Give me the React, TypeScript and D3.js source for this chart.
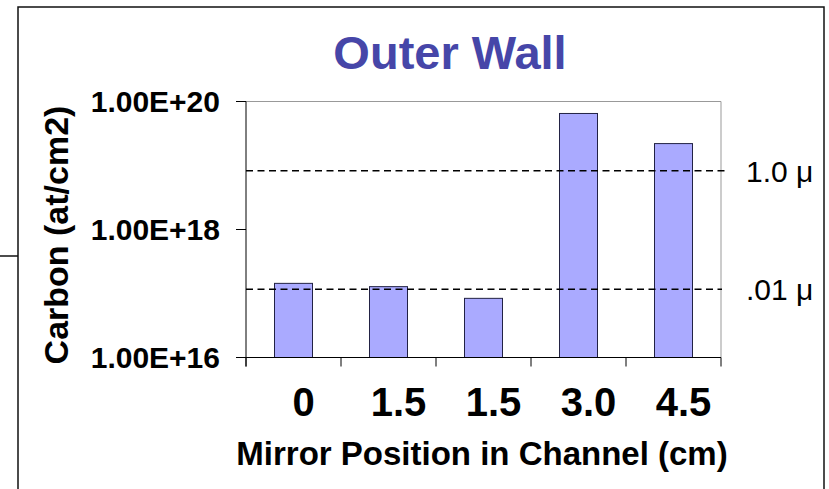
import React, { useEffect, useRef } from 'react';
import * as d3 from 'd3';

const positions = ['0', '1.5', '1.5', '3.0', '4.5'];
const carbon = [1.44e17, 1.28e17, 8.4e16, 6.5e19, 2.2e19];
const yTicks = [1e16, 1e18, 1e20];
const refValues = [8.3e18, 1.17e17];
const refLabels = ['1.0 μ', '.01 μ'];

const App: React.FC = () => {
    const svgRef = useRef<SVGSVGElement>(null);

    useEffect(() => {
        if (!svgRef.current) return;
        const width = 829;
        const height = 489;
        const svg = d3.select(svgRef.current)
            .attr('width', width)
            .attr('height', height)
            .style('font-family', 'Liberation Sans, Arial, sans-serif');
        svg.selectAll('*').remove();

        const plot = { left: 246, right: 721, top: 101.5, bottom: 357.5 };

        // outer frame
        svg.append('rect')
            .attr('x', 18).attr('y', 7)
            .attr('width', 806).attr('height', 500)
            .attr('fill', 'none')
            .attr('stroke', '#111')
            .attr('stroke-width', 1.5);
        svg.append('line')
            .attr('x1', 0).attr('x2', 18)
            .attr('y1', 256).attr('y2', 256)
            .attr('stroke', '#111').attr('stroke-width', 1.5);

        const x = d3.scaleBand<number>()
            .domain(d3.range(positions.length))
            .range([plot.left, plot.right])
            .paddingInner(0.6)
            .paddingOuter(0.3);
        const y = d3.scaleLog().domain([1e16, 1e20]).range([plot.bottom, plot.top]);

        // plot border (gray)
        svg.append('path')
            .attr('d', `M${plot.left},${plot.top}H${plot.right}V${plot.bottom}`)
            .attr('fill', 'none')
            .attr('stroke', '#999')
            .attr('stroke-width', 1);

        // bars
        svg.selectAll('.bar')
            .data(carbon)
            .enter()
            .append('rect')
            .attr('x', (_, i) => x(i)!)
            .attr('width', x.bandwidth())
            .attr('y', d => y(d))
            .attr('height', d => plot.bottom - y(d))
            .attr('fill', '#aaaaff')
            .attr('stroke', '#222244')
            .attr('stroke-width', 1);

        // reference lines
        refValues.forEach((v, i) => {
            svg.append('line')
                .attr('x1', plot.left).attr('x2', i === 0 ? 727 : 722)
                .attr('y1', y(v)).attr('y2', y(v))
                .attr('stroke', '#000')
                .attr('stroke-width', 1.5)
                .attr('stroke-dasharray', '7,4.5');
            svg.append('text')
                .attr('x', 746)
                .attr('y', y(v) + 11)
                .attr('font-size', 30)
                .attr('fill', '#000')
                .text(refLabels[i]);
        });

        // y axis
        svg.append('line')
            .attr('x1', plot.left).attr('x2', plot.left)
            .attr('y1', plot.top).attr('y2', plot.bottom + 9)
            .attr('stroke', '#000');
        svg.selectAll('.ytick')
            .data(yTicks)
            .enter()
            .append('line')
            .attr('x1', plot.left - 10).attr('x2', plot.left)
            .attr('y1', d => y(d)).attr('y2', d => y(d))
            .attr('stroke', '#000');
        svg.selectAll('.ylab')
            .data(yTicks)
            .enter()
            .append('text')
            .attr('x', 220)
            .attr('y', d => y(d) + 10)
            .attr('text-anchor', 'end')
            .attr('font-size', 30)
            .attr('font-weight', 'bold')
            .text(d => d3.format('.2e')(d).toUpperCase());

        // x axis
        svg.append('line')
            .attr('x1', plot.left - 10).attr('x2', plot.right)
            .attr('y1', plot.bottom).attr('y2', plot.bottom)
            .attr('stroke', '#000');
        const bounds = d3.range(positions.length + 1).map(i => plot.left + (plot.right - plot.left) * i / positions.length);
        svg.selectAll('.xtick')
            .data(bounds)
            .enter()
            .append('line')
            .attr('x1', d => d).attr('x2', d => d)
            .attr('y1', plot.bottom).attr('y2', plot.bottom + 9)
            .attr('stroke', '#000');
        svg.selectAll('.xlab')
            .data(positions)
            .enter()
            .append('text')
            .attr('x', (_, i) => x(i)! + x.bandwidth() / 2 + 10)
            .attr('y', 416)
            .attr('text-anchor', 'middle')
            .attr('font-size', 40)
            .attr('font-weight', 'bold')
            .text(d => d);

        // titles
        svg.append('text')
            .attr('x', 450).attr('y', 69)
            .attr('text-anchor', 'middle')
            .attr('font-size', 47)
            .attr('font-weight', 'bold')
            .attr('fill', '#4646a8')
            .text('Outer Wall');
        svg.append('text')
            .attr('x', 482).attr('y', 465)
            .attr('text-anchor', 'middle')
            .attr('font-size', 33)
            .attr('font-weight', 'bold')
            .text('Mirror Position in Channel (cm)');
        svg.append('text')
            .attr('transform', 'translate(68,235) rotate(-90)')
            .attr('text-anchor', 'middle')
            .attr('font-size', 34)
            .attr('font-weight', 'bold')
            .text('Carbon (at/cm2)');
    }, []);

    return <svg ref={svgRef} style={{ position: 'absolute', left: 0, top: 0, display: 'block' }} />;
};

export default App;
